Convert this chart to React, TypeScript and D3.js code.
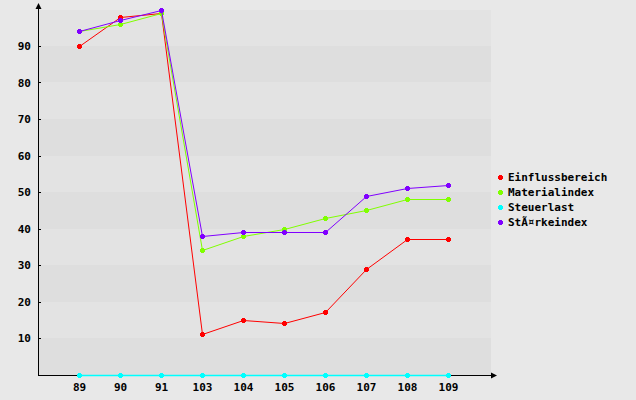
import React from "react";
import * as d3 from "d3";

const categories = ["89", "90", "91", "103", "104", "105", "106", "107", "108", "109"];
const seriesNames = ["Einflussbereich", "Materialindex", "Steuerlast", "StÃ¤rkeindex"];
const einfluss = [90, 98, 99, 11, 15, 14, 17, 29, 37, 37];
const material = [94, 96, 99, 34, 38, 40, 43, 45, 48, 48];
const steuer = [0, 0, 0, 0, 0, 0, 0, 0, 0, 0];
const staerke = [94, 97, 100, 38, 39, 39, 39, 49, 51, 52];
const yTicks = [10, 20, 30, 40, 50, 60, 70, 80, 90];
const colors = ["#ff0000", "#80ff00", "#00ffff", "#8000ff"];

const W = 636, H = 400;
const left = 38, right = 491, top = 9.5, bottom = 374.5;

export default function App() {
  const x = d3.scalePoint<string>().domain(categories).range([left + 41, left + 41 * 10]);
  const y = d3.scaleLinear().domain([0, 100]).range([bottom, top]);
  const series = [einfluss, material, steuer, staerke];
  const bands = d3.range(0, 100, 10);
  const px = (i: number) => x(categories[i])! + 0.5;
  const py = (v: number) => Math.min(Math.round(y(v)), 375) + 0.5;
  const font = "'DejaVu Sans Mono', monospace";
  const axisY = 375.5;
  const marker = (cxr: number, cyr: number, c: string, k: string) => {
    const cx = Math.round(cxr), cy = Math.round(cyr);
    return (
      <g key={k} fill={c} shapeRendering="crispEdges">
        <rect x={cx - 2} y={cy - 1} width={5} height={3} />
        <rect x={cx - 1} y={cy - 2} width={3} height={5} />
      </g>
    );
  };
  return (
    <svg width={W} height={H} style={{ position: "absolute", left: 0, top: 0, display: "block" }}>
      <rect x={0} y={0} width={W} height={H} fill="#e8e8e8" />
      {bands.map((b) => (
        <rect key={b} x={left} y={Math.round(y(b + 10))} width={right - left} height={Math.round(y(b)) - Math.round(y(b + 10))}
          fill={(b / 10) % 2 === 0 ? "#dedede" : "#e3e3e3"} />
      ))}
      {/* axes */}
      <line x1={left + 0.5} y1={axisY + 0.5} x2={left + 0.5} y2={4} stroke="#000" strokeWidth={1} />
      <path d={`M${left + 0.5},3L${left - 2.5},9L${left + 3.5},9Z`} fill="#000" />
      <line x1={left} y1={axisY} x2={494} y2={axisY} stroke="#000" strokeWidth={1} />
      <path d={`M497,${axisY}L491,${axisY - 3}L491,${axisY + 3}Z`} fill="#000" />
      {yTicks.map((t) => (
        <g key={t}>
          <line x1={left} x2={left + 3} y1={Math.round(y(t)) + 0.5} y2={Math.round(y(t)) + 0.5} stroke="#000" />
          <text x={31} y={y(t) + 4} textAnchor="end" fontFamily={font} fontWeight="bold" fontSize={11} fill="#000">{t}</text>
        </g>
      ))}
      {categories.map((c) => (
        <text key={c} x={x(c)! + 0.5} y={391} textAnchor="middle" fontFamily={font} fontWeight="bold" fontSize={11} fill="#000">{c}</text>
      ))}
      {series.map((s, si) => (
        <g key={si}>
          {s.slice(1).map((v, j) => (
            <line key={j} x1={px(j)} y1={py(s[j])} x2={px(j + 1)} y2={py(v)} stroke={colors[si]} strokeWidth={si === 2 ? 1.6 : 1} />
          ))}
          {s.map((v, i) => marker(x(categories[i])!, py(v) - 0.5, colors[si], `${si}-${i}`))}
        </g>
      ))}
      {seriesNames.map((n, i) => (
        <g key={n}>
          {marker(500, 177 + i * 15, colors[i], "l" + i)}
          <text x={508} y={181 + i * 15} fontFamily={font} fontWeight="bold" fontSize={11} fill="#000">{n}</text>
        </g>
      ))}
    </svg>
  );
}
